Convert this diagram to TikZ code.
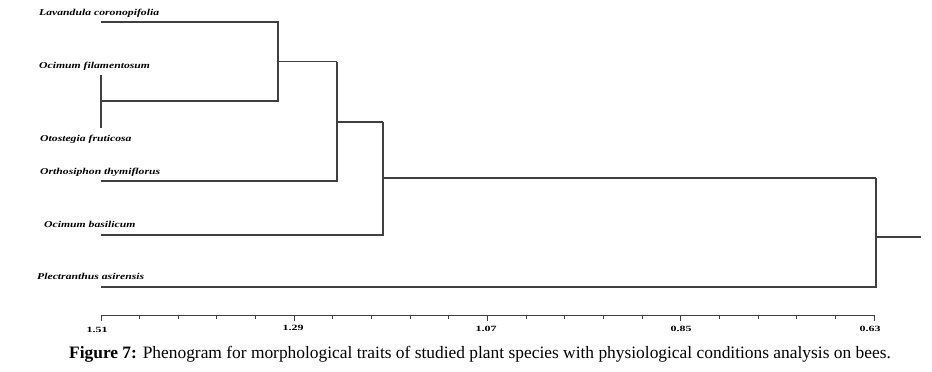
\documentclass[tikz,border=0pt]{standalone}
\usepackage{fontspec}
\setmainfont{Liberation Serif}
\newfontfamily\leaffont[FakeStretch=1.3]{Liberation Serif}
\newfontfamily\axfont[FakeStretch=1.5]{Liberation Serif}
\begin{document}
\begin{tikzpicture}[x=1pt,y=-1pt,
  leaf/.style={anchor=base west,inner sep=0pt,font=\leaffont\fontsize{9}{10}\selectfont\bfseries\itshape},
  axlab/.style={anchor=base,inner sep=0pt,font=\axfont\fontsize{8}{9}\selectfont\bfseries},
  branch/.style={draw=black!75,line width=1.1pt},
  axisline/.style={draw=black!75,line width=1pt}]
\useasboundingbox (0,0) rectangle (932,372);
% leaf labels
\node[leaf] (tLav)  at (39,15)  {Lavandula coronopifolia};
\node[leaf] (tOcF)  at (39,68)  {Ocimum filamentosum};
\node[leaf] (tOto)  at (40,141) {Otostegia fruticosa};
\node[leaf] (tOrth) at (40,174) {Orthosiphon thymiflorus};
\node[leaf] (tOcB)  at (44,227) {Ocimum basilicum};
\node[leaf] (tPlec) at (37,279) {Plectranthus asirensis};
% leaf line starts
\coordinate (lA) at (101,22);
\coordinate (lB) at (101,101);
\coordinate (lBt) at (101,75);
\coordinate (lBb) at (101,128);
\coordinate (lC) at (101,181);
\coordinate (lD) at (101,235);
\coordinate (lE) at (101,287);
% internal nodes (junction points)
\coordinate (n1) at (278,61.5);
\coordinate (n2) at (337,122);
\coordinate (n3) at (383,178);
\coordinate (n4) at (876,237);
\coordinate (root) at (921,237);
% branches
\draw[branch] (lBt) -- (lBb);
\draw[branch] (lA) -- (lA -| n1) -- (lB -| n1) -- (lB);
\draw[branch] (n1) -- (n1 -| n2);
\draw[branch] (n1 -| n2) -- (lC -| n2) -- (lC);
\draw[branch] (n2) -- (n2 -| n3);
\draw[branch] (n2 -| n3) -- (lD -| n3) -- (lD);
\draw[branch] (n3) -- (n3 -| n4);
\draw[branch] (n3 -| n4) -- (lE -| n4) -- (lE);
\draw[branch] (n4) -- (root);
% axis
\coordinate (ax0) at (101,315);
\coordinate (ax1) at (874,315);
\draw[axisline] (ax0) -- (ax1);
\foreach \i in {0,...,20}{
  \pgfmathsetmacro{\xx}{101+\i*38.65}
  \pgfmathtruncatemacro{\m}{mod(\i,5)}
  \ifnum\m=0
    \draw[axisline] (\xx,315) -- (\xx,320.5);
  \else
    \draw[axisline] (\xx,315) -- (\xx,318.5);
  \fi
}
\node[axlab] (v151) at (97,332)   {1.51};
\node[axlab] (v129) at (293,330)  {1.29};
\node[axlab] (v107) at (486,331.5) {1.07};
\node[axlab] (v085) at (681,331.5) {0.85};
\node[axlab] (v063) at (870,331.5) {0.63};
% caption
\node[anchor=base,inner sep=0pt,font=\fontsize{17.4}{19}\selectfont] (cap) at (480,358)
  {\textbf{Figure 7:} Phenogram for morphological traits of studied plant species with physiological conditions analysis on bees.};
\end{tikzpicture}
\end{document}
